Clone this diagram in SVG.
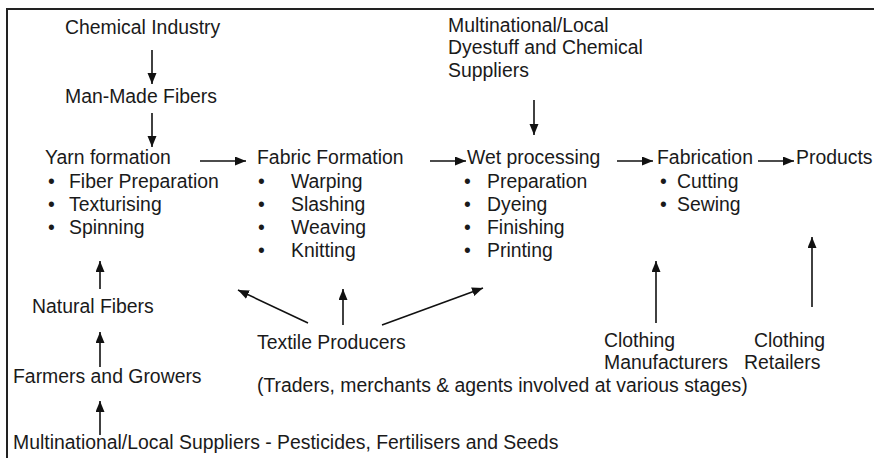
<svg xmlns="http://www.w3.org/2000/svg" width="874" height="458" viewBox="0 0 874 458">
<defs>
<marker id="ah" markerUnits="userSpaceOnUse" markerWidth="12" markerHeight="10" refX="11" refY="4.5" orient="auto">
<path d="M0,0 L11,4.5 L0,9 z" fill="#111"/>
</marker>
<style>
text{font-family:"Liberation Sans",Arial,Helvetica,sans-serif;font-size:19.4px;fill:#1a1a1a}
.c line{stroke:#111;stroke-width:1.6;marker-end:url(#ah)}
.frame{stroke:#222;stroke-width:2;fill:none}
</style>
</defs>
<rect width="874" height="458" fill="#fff"/>
<path class="frame" d="M7,460 L7,9 L876,9"/>
<g id="chemical-industry"><text x="65" y="34">Chemical Industry</text></g>
<g id="man-made-fibers"><text x="65" y="103">Man-Made Fibers</text></g>
<g id="dyestuff-suppliers"><text x="448" y="32">Multinational/Local</text><text x="448" y="54">Dyestuff and Chemical</text><text x="448" y="77">Suppliers</text></g>
<g id="yarn-formation"><text x="45" y="164">Yarn formation</text>
<text x="48" y="188">•</text><text x="69" y="188">Fiber Preparation</text>
<text x="48" y="211">•</text><text x="69" y="211">Texturising</text>
<text x="48" y="234">•</text><text x="69" y="234">Spinning</text></g>
<g id="fabric-formation"><text x="257" y="164">Fabric Formation</text>
<text x="258" y="188">•</text><text x="291" y="188">Warping</text>
<text x="258" y="211">•</text><text x="291" y="211">Slashing</text>
<text x="258" y="234">•</text><text x="291" y="234">Weaving</text>
<text x="258" y="257">•</text><text x="291" y="257">Knitting</text></g>
<g id="wet-processing"><text x="467" y="164">Wet processing</text>
<text x="464" y="188">•</text><text x="487" y="188">Preparation</text>
<text x="464" y="211">•</text><text x="487" y="211">Dyeing</text>
<text x="464" y="234">•</text><text x="487" y="234">Finishing</text>
<text x="464" y="257">•</text><text x="487" y="257">Printing</text></g>
<g id="fabrication"><text x="657" y="164">Fabrication</text>
<text x="660" y="188">•</text><text x="677" y="188">Cutting</text>
<text x="660" y="211">•</text><text x="677" y="211">Sewing</text></g>
<g id="products"><text x="796" y="164">Products</text></g>
<g id="natural-fibers"><text x="32" y="313">Natural Fibers</text></g>
<g id="farmers-growers"><text x="13" y="383">Farmers and Growers</text></g>
<g id="agro-suppliers"><text x="13" y="449">Multinational/Local Suppliers - Pesticides, Fertilisers and Seeds</text></g>
<g id="textile-producers"><text x="257" y="349">Textile Producers</text></g>
<g id="traders-note"><text x="257" y="392">(Traders, merchants &amp; agents involved at various stages)</text></g>
<g id="clothing-manufacturers"><text x="604" y="347">Clothing</text><text x="604" y="369">Manufacturers</text></g>
<g id="clothing-retailers"><text x="754" y="347">Clothing</text><text x="744" y="369">Retailers</text></g>
<g id="connectors" class="c">
<line x1="152" y1="50" x2="152" y2="84"/>
<line x1="152" y1="113" x2="152" y2="147"/>
<line x1="534" y1="100" x2="534" y2="135"/>
<line x1="200" y1="161" x2="246" y2="161"/>
<line x1="430" y1="161" x2="466" y2="161"/>
<line x1="617" y1="161" x2="653" y2="161"/>
<line x1="758" y1="161" x2="794" y2="161"/>
<line x1="100" y1="289" x2="100" y2="261"/>
<line x1="100" y1="367" x2="100" y2="332"/>
<line x1="100" y1="435" x2="100" y2="401"/>
<line x1="308" y1="323" x2="238" y2="290"/>
<line x1="343" y1="325" x2="343" y2="289"/>
<line x1="382" y1="325" x2="483" y2="288"/>
<line x1="656" y1="323" x2="656" y2="261"/>
<line x1="812" y1="307" x2="812" y2="237"/>
</g>
</svg>
